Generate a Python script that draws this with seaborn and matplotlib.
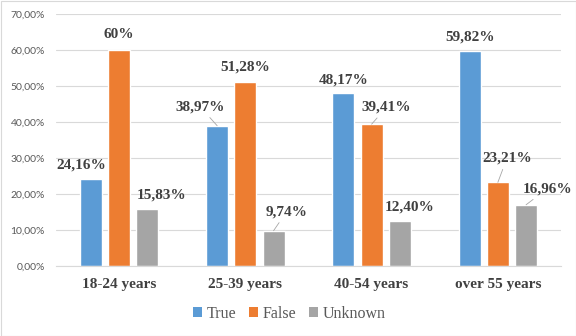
import matplotlib
matplotlib.use("Agg")
import matplotlib.pyplot as plt
from matplotlib.patches import Rectangle, Patch
from matplotlib.ticker import FuncFormatter
import seaborn as sns
import pandas as pd

# ---- data ----
groups = ["18-24 years", "25-39 years", "40-54 years", "over 55 years"]
series = ["True", "False", "Unknown"]
true_vals = [24.16, 38.97, 48.17, 59.82]
false_vals = [60.00, 51.28, 39.41, 23.21]
unknown_vals = [15.83, 9.74, 12.40, 16.96]
true_labels = ["24,16%", "38,97%", "48,17%", "59,82%"]
false_labels = ["60%", "51,28%", "39,41%", "23,21%"]
unknown_labels = ["15,83%", "9,74%", "12,40%", "16,96%"]

colors = ["#5B9BD5", "#ED7D31", "#A5A5A5"]

rows = []
for s, vals in zip(series, [true_vals, false_vals, unknown_vals]):
    for g, v in zip(groups, vals):
        rows.append({"group": g, "series": s, "value": v})
df = pd.DataFrame(rows)

sns.set_theme(style="white")
plt.rcParams["font.family"] = ["Liberation Serif", "DejaVu Serif"]

fig = plt.figure(figsize=(5.76, 3.36), dpi=100)
ax = fig.add_axes([56 / 576, 1 - 265.7 / 336, (561 - 56) / 576, (265.7 - 14.3) / 336])

sns.barplot(data=df, x="group", y="value", hue="series", order=groups,
            hue_order=series, palette=colors, width=0.67, gap=0.22,
            saturation=1, ax=ax, legend=False, errorbar=None)

ax.set_ylim(0, 70)
ax.set_yticks(range(0, 71, 10))
ax.yaxis.set_major_formatter(FuncFormatter(lambda v, p: f"{v:.2f}%".replace(".", ",")))
ax.grid(axis="y", color="#D9D9D9", linewidth=0.8)
ax.set_axisbelow(True)
for side in ["left", "right", "top"]:
    ax.spines[side].set_visible(False)
ax.spines["bottom"].set_color("#D9D9D9")
ax.spines["bottom"].set_linewidth(0.8)
ax.tick_params(axis="both", length=0)
ax.tick_params(axis="y", pad=8)
ax.tick_params(axis="x", pad=9)
ax.set_xlabel("")
ax.set_ylabel("")
for t in ax.get_yticklabels():
    t.set_family(["Lato", "DejaVu Sans"])
    t.set_fontsize(7.5)
    t.set_color("#595959")
for t in ax.get_xticklabels():
    t.set_family(["Liberation Serif"])
    t.set_fontsize(11)
    t.set_fontweight("bold")
    t.set_color("#404040")

# data labels (offsets in pixels from bar top center; flag = leader line)
offsets = {
    "True": [(-9.5, 14, False), (-17, 19, True), (0, 13, False), (0, 14, False)],
    "False": [(0, 16, False), (0, 15, False), (15, 17, True), (9, 24, True)],
    "Unknown": [(14, 14, False), (13, 19, True), (9.5, 14, False), (21, 16, True)],
}
label_sets = {"True": true_labels, "False": false_labels, "Unknown": unknown_labels}

for cont, s in zip(ax.containers, series):
    for bar, lab, (dx, dy, lead) in zip(cont, label_sets[s], offsets[s]):
        x = bar.get_x() + bar.get_width() / 2
        y = bar.get_height()
        kw = {}
        if lead:
            kw["arrowprops"] = dict(arrowstyle="-", color="#A6A6A6", lw=0.6,
                                    shrinkA=1, shrinkB=0)
        ax.annotate(lab, xy=(x, y), xytext=(dx, dy), textcoords="offset pixels",
                    ha="center", va="center", fontsize=11, fontweight="bold",
                    color="#404040", family="Liberation Serif", **kw)

handles = [Patch(facecolor=c, edgecolor="none", label=s) for c, s in zip(colors, series)]
fig.legend(handles=handles, loc="center", bbox_to_anchor=(289 / 576, 1 - 314 / 336),
           ncol=3, frameon=False, handlelength=0.6, handleheight=0.6,
           handletextpad=0.25, columnspacing=0.8, labelcolor="#595959",
           prop={"family": "Liberation Serif", "size": 11.5})

fig.patches.append(Rectangle((0.5 / 576, 0.5 / 336), 1 - 1 / 576, 1 - 1 / 336,
                             transform=fig.transFigure, fill=False,
                             edgecolor="#D9D9D9", linewidth=0.8))

fig.savefig("out.png", dpi=100)
